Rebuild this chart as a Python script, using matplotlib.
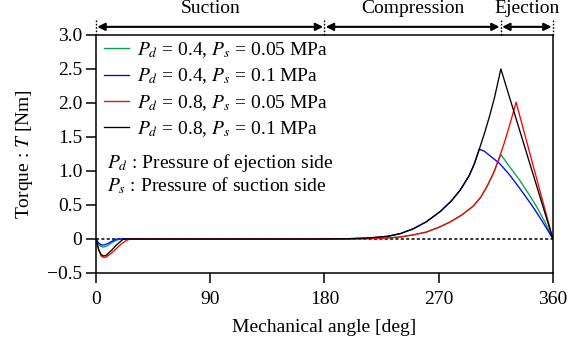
import matplotlib
matplotlib.use("Agg")
import matplotlib.pyplot as plt
import matplotlib.transforms as mtransforms

plt.rcParams["font.family"] = ["Liberation Serif", "DejaVu Serif"]
plt.rcParams["mathtext.fontset"] = "stix"
plt.rcParams["font.size"] = 14

# 数据
ang_green = [0, 2, 4, 6, 9, 12, 15, 19, 180, 210, 230, 240, 250, 260, 270, 279, 288, 297, 303, 308, 313, 319,
             326, 334, 341, 347, 354, 360]
trq_green = [0, -0.08, -0.11, -0.12, -0.10, -0.06, -0.03, 0, 0, 0.003, 0.015, 0.03, 0.06, 0.10, 0.17, 0.25,
             0.35, 0.48, 0.61, 0.77, 0.96, 1.24, 1.06, 0.86, 0.66, 0.48, 0.24, 0]

ang_blue = [0, 2, 4.5, 7, 10, 13, 16, 180, 200, 215, 230, 240, 250, 260, 271, 280, 287, 294, 298, 302,
            306, 312, 318, 326, 336, 344, 352, 360]
trq_blue = [0, -0.06, -0.09, -0.085, -0.06, -0.03, 0, 0, 0.005, 0.015, 0.04, 0.08, 0.15, 0.25, 0.40, 0.56,
            0.72, 0.93, 1.10, 1.32, 1.29, 1.20, 1.11, 0.94, 0.69, 0.48, 0.25, 0]

ang_red = [0, 2, 4, 6, 8, 12, 16, 20, 24, 27, 180, 210, 230, 240, 250, 260, 270, 279, 288, 297, 303, 308,
           313, 318, 322, 326, 331, 360]
trq_red = [0, -0.16, -0.25, -0.27, -0.265, -0.21, -0.14, -0.07, -0.02, 0, 0, 0.003, 0.015, 0.03, 0.06,
           0.10, 0.17, 0.25, 0.35, 0.48, 0.61, 0.77, 0.96, 1.21, 1.43, 1.68, 2.01, 0]

ang_black = [0, 2, 4, 6, 8, 12, 16, 21.5, 180, 200, 215, 230, 240, 250, 260, 271, 280, 287, 294, 298, 302,
             306, 310, 314, 319, 360]
trq_black = [0, -0.15, -0.23, -0.25, -0.24, -0.17, -0.09, 0, 0, 0.005, 0.015, 0.04, 0.08, 0.15, 0.25, 0.40,
             0.56, 0.72, 0.93, 1.10, 1.32, 1.55, 1.80, 2.08, 2.50, 0]

labels = [r"$P_d$ = 0.4, $P_s$ = 0.05 MPa",
          r"$P_d$ = 0.4, $P_s$ = 0.1 MPa",
          r"$P_d$ = 0.8, $P_s$ = 0.05 MPa",
          r"$P_d$ = 0.8, $P_s$ = 0.1 MPa"]
colors = ["#00a550", "#0000ff", "#ff0000", "#000000"]

xticks = [0, 90, 180, 270, 360]
yticks = [-0.5, 0, 0.5, 1.0, 1.5, 2.0, 2.5, 3.0]
yticklabels = ["\u22120.5", "0", "0.5", "1.0", "1.5", "2.0", "2.5", "3.0"]

# 区间
phase_names = ["Suction", "Compression", "Ejection"]
phase_edges = [0, 180, 319, 360]

fig = plt.figure(figsize=(5.82, 3.42), dpi=100)
ax = fig.add_axes([0.165, 0.2018, 0.785, 0.696])

for a, t, c, lab in zip([ang_green, ang_blue, ang_red, ang_black],
                        [trq_green, trq_blue, trq_red, trq_black], colors, labels):
    ax.plot(a, t, color=c, lw=0.95, label=lab)

ax.axhline(0, color="black", lw=1.1, ls=(0, (2, 1.5)), zorder=0)

ax.set_xlim(0, 360)
ax.set_ylim(-0.5, 3.0)
ax.set_xticks(xticks)
ax.set_yticks(yticks)
ax.set_yticklabels(yticklabels)
ax.tick_params(direction="out", length=7, width=1.1, labelsize=14, pad=3)
ax.tick_params(axis="x", pad=6)
for s in ax.spines.values():
    s.set_linewidth(1.1)

ax.set_xlabel("Mechanical angle [deg]", fontsize=14, labelpad=8)
ax.set_ylabel(r"Torque : $T$ [Nm]", fontsize=14, labelpad=9)

leg = ax.legend(loc="upper left", frameon=False, fontsize=14, handlelength=1.3,
                handletextpad=0.4, labelspacing=0.33, borderaxespad=0.0,
                bbox_to_anchor=(0.0, 1.01))

ax.text(0.024, 0.462, r"$P_d$ : Pressure of ejection side", transform=ax.transAxes,
        fontsize=14, va="center", ha="left")
ax.text(0.024, 0.366, r"$P_s$ : Pressure of suction side", transform=ax.transAxes,
        fontsize=14, va="center", ha="left")

# 顶部区间箭头
trans = mtransforms.blended_transform_factory(ax.transData, ax.transAxes)
for e in phase_edges:
    ax.plot([e, e], [1.0, 1.065], transform=trans, color="black", lw=1.0,
            ls=(0, (1.2, 1.2)), clip_on=False)
for name, x0, x1 in zip(phase_names, phase_edges[:-1], phase_edges[1:]):
    ax.annotate("", xy=(x0 + 1, 1.034), xytext=(x1 - 1, 1.034), xycoords=trans, textcoords=trans,
                arrowprops=dict(arrowstyle="<|-|>", color="black", lw=1.5,
                                mutation_scale=11, shrinkA=0, shrinkB=0))
    ax.text((x0 + x1) / 2, 1.11, name, transform=trans, ha="center", va="center", fontsize=14)

fig.savefig("out.png", dpi=100)
